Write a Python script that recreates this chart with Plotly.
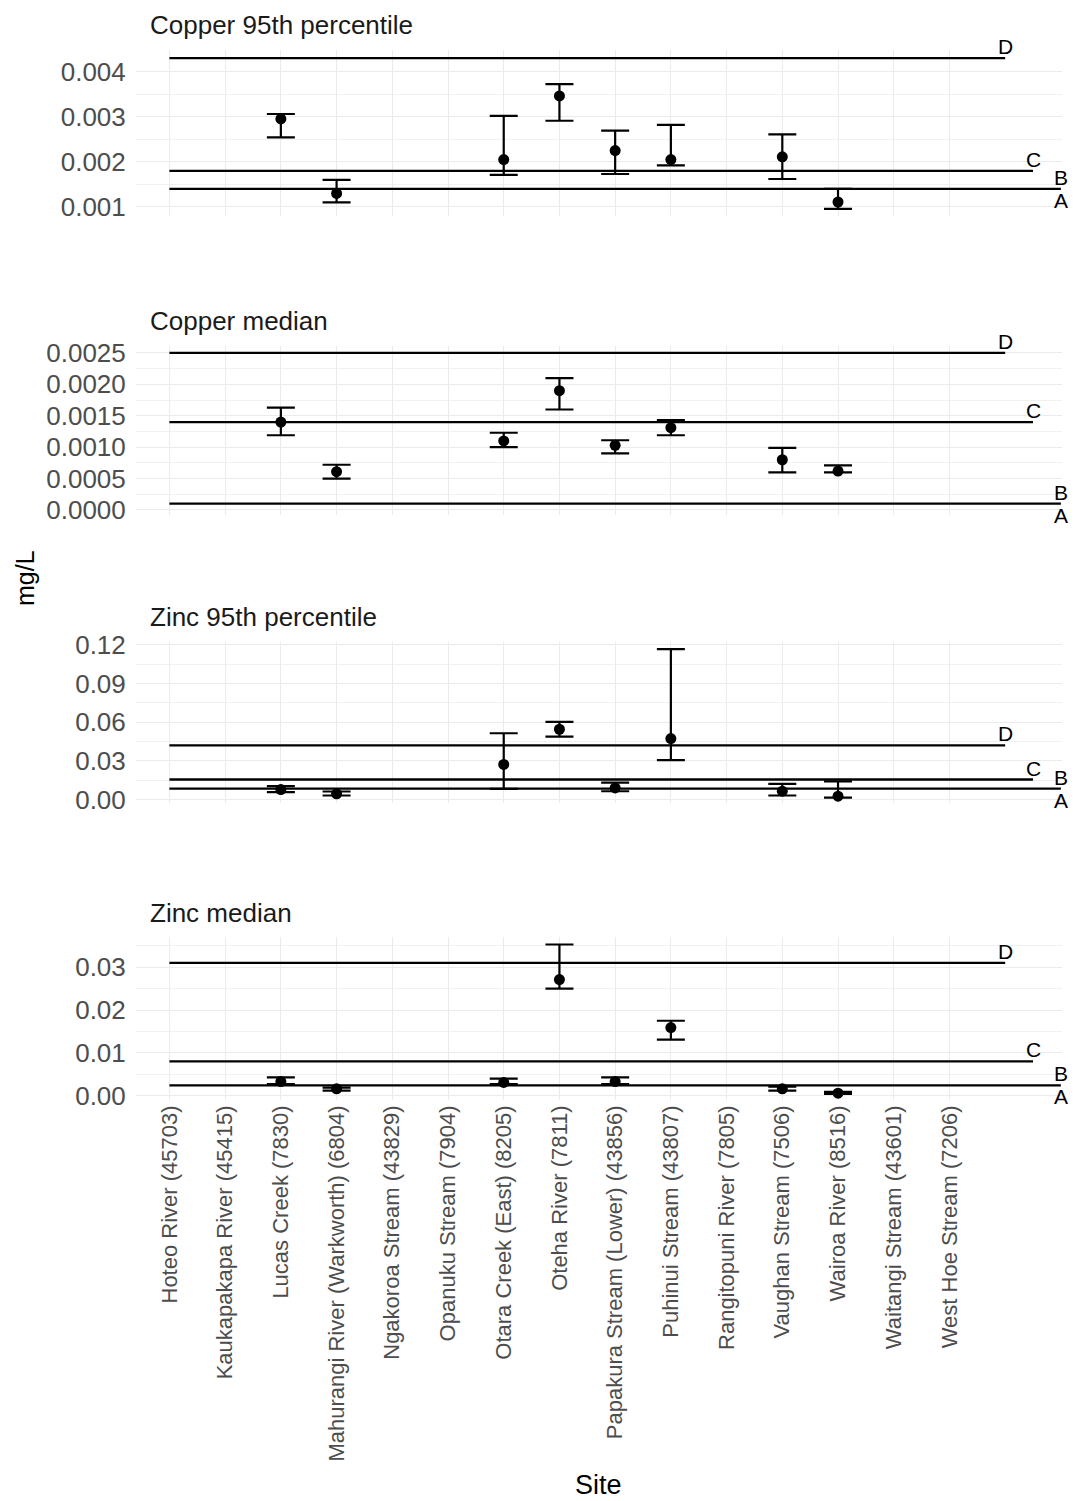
import plotly.graph_objects as go

# Monitoring sites along the x axis
sites = [
    "Hoteo River (45703)", "Kaukapakapa River (45415)", "Lucas Creek (7830)",
    "Mahurangi River (Warkworth) (6804)", "Ngakoroa Stream (43829)",
    "Opanuku Stream (7904)", "Otara Creek (East) (8205)", "Oteha River (7811)",
    "Papakura Stream (Lower) (43856)", "Puhinui Stream (43807)",
    "Rangitopuni River (7805)", "Vaughan Stream (7506)", "Wairoa River (8516)",
    "Waitangi Stream (43601)", "West Hoe Stream (7206)",
]

# Sites with metal results
measured_sites = [
    "Lucas Creek (7830)", "Mahurangi River (Warkworth) (6804)",
    "Otara Creek (East) (8205)", "Oteha River (7811)",
    "Papakura Stream (Lower) (43856)", "Puhinui Stream (43807)",
    "Vaughan Stream (7506)", "Wairoa River (8516)",
]

# Copper 95th percentile (mg/L): estimate and interval
cu95_value = [0.00295, 0.00130, 0.00205, 0.00346, 0.00225, 0.00205, 0.00211, 0.00111]
cu95_lower = [0.00254, 0.00110, 0.00171, 0.00291, 0.00173, 0.00192, 0.00162, 0.00096]
cu95_upper = [0.00306, 0.00160, 0.00302, 0.00372, 0.00269, 0.00282, 0.00261, 0.00140]
cu95_bands = [0.0043, 0.0018, 0.0014]

# Copper median (mg/L)
cu50_value = [0.00140, 0.00061, 0.00110, 0.00190, 0.00103, 0.00131, 0.00080, 0.00062]
cu50_lower = [0.00119, 0.00050, 0.00100, 0.00160, 0.00090, 0.00119, 0.00060, 0.00060]
cu50_upper = [0.00163, 0.00072, 0.00123, 0.00210, 0.00111, 0.00143, 0.00099, 0.00071]
cu50_bands = [0.0025, 0.0014, 0.0001]

# Zinc 95th percentile (mg/L)
zn95_value = [0.0077, 0.0044, 0.0272, 0.0545, 0.0090, 0.0473, 0.0064, 0.0026]
zn95_lower = [0.0057, 0.0031, 0.0082, 0.0488, 0.0064, 0.0306, 0.0031, 0.0015]
zn95_upper = [0.0103, 0.0062, 0.0514, 0.0602, 0.0131, 0.1167, 0.0121, 0.0141]
zn95_bands = [0.042, 0.0155, 0.0085]

# Zinc median (mg/L)
zn50_value = [0.0033, 0.0016, 0.0031, 0.0271, 0.0033, 0.0159, 0.0016, 0.0006]
zn50_lower = [0.0027, 0.0012, 0.0027, 0.0250, 0.0027, 0.0131, 0.0012, 0.0004]
zn50_upper = [0.0043, 0.0019, 0.0040, 0.0353, 0.0043, 0.0175, 0.0021, 0.0009]
zn50_bands = [0.031, 0.008, 0.0024]

# Band names written above each threshold line; the lowest line also gets "A" below it
band_upper_labels = ["D", "C", "B"]
band_lower_label = "A"

panel_titles = ["Copper 95th percentile", "Copper median",
                "Zinc 95th percentile", "Zinc median"]

panels = [
    dict(value=cu95_value, lower=cu95_lower, upper=cu95_upper, bands=cu95_bands,
         rng=[0.000811, 0.004478], dtick=0.001, fmt=".3f", px=(50, 215.5)),
    dict(value=cu50_value, lower=cu50_lower, upper=cu50_upper, bands=cu50_bands,
         rng=[-0.00008, 0.002619], dtick=0.0005, fmt=".4f", px=(345.5, 515)),
    dict(value=zn95_value, lower=zn95_lower, upper=zn95_upper, bands=zn95_bands,
         rng=[-0.0025, 0.1226], dtick=0.03, fmt=".2f", px=(641.5, 802.7)),
    dict(value=zn50_value, lower=zn50_lower, upper=zn50_upper, bands=zn50_bands,
         rng=[-0.0010, 0.03705], dtick=0.01, fmt=".2f", px=(937, 1100)),
]

# Threshold lines run from the first site to these x positions
band_line_end = [16, 16.5, 17]

W, H = 1077, 1501
M_L, M_R, M_T, M_B = 136, 15, 50, 401
plot_h = H - M_T - M_B
plot_w = W - M_L - M_R

FONT = "Liberation Sans, Arial, sans-serif"
TICK_COLOR = "#4D4D4D"
GRID = "#EBEBEB"

fig = go.Figure()
annotations = []
layout_axes = {}

x_measured = [sites.index(s) + 1 for s in measured_sites]

for i, p in enumerate(panels):
    n = "" if i == 0 else str(i + 1)
    xref, yref = "x" + n, "y" + n

    # Threshold lines and their band letters
    for b, lab, xe in zip(p["bands"], band_upper_labels, band_line_end):
        fig.add_trace(go.Scatter(
            x=[1, xe], y=[b, b], mode="lines",
            line=dict(color="black", width=2.3),
            xaxis=xref, yaxis=yref, showlegend=False, hoverinfo="skip",
        ))
        annotations.append(dict(
            x=xe, y=b, xref=xref, yref=yref, text=lab, showarrow=False,
            xanchor="center", yanchor="bottom", yshift=-1, borderpad=0,
            font=dict(family=FONT, size=21, color="black"),
        ))
    annotations.append(dict(
        x=band_line_end[-1], y=p["bands"][-1], xref=xref, yref=yref,
        text=band_lower_label, showarrow=False, xanchor="center",
        yanchor="top", yshift=1, borderpad=0,
        font=dict(family=FONT, size=21, color="black"),
    ))

    # Estimates with interval bars
    err_plus = [u - v for u, v in zip(p["upper"], p["value"])]
    err_minus = [v - l for v, l in zip(p["value"], p["lower"])]
    fig.add_trace(go.Scatter(
        x=x_measured, y=p["value"], mode="markers",
        marker=dict(color="black", size=11),
        error_y=dict(type="data", symmetric=False, array=err_plus,
                     arrayminus=err_minus, color="black", thickness=2.2, width=14),
        xaxis=xref, yaxis=yref, showlegend=False,
    ))

    top_px, bot_px = p["px"]
    dom = [(H - M_B - bot_px) / plot_h, (H - M_B - top_px) / plot_h]
    dom = [max(0, dom[0]), min(1, dom[1])]

    last = i == len(panels) - 1
    layout_axes["xaxis" + n] = dict(
        domain=[0, 1], anchor=yref, range=[0.4, 17.02],
        tickmode="array", tickvals=list(range(1, len(sites) + 1)),
        ticktext=sites, showticklabels=last, tickangle=-90,
        tickfont=dict(family=FONT, size=22, color=TICK_COLOR),
        showgrid=True, gridcolor=GRID, gridwidth=1,
        zeroline=False, showline=False, ticks="",
        matches=None if i == 0 else "x",
    )
    layout_axes["yaxis" + n] = dict(
        domain=dom, anchor=xref, range=p["rng"],
        tickmode="linear", tick0=0, dtick=p["dtick"], tickformat=p["fmt"],
        tickfont=dict(family=FONT, size=26, color=TICK_COLOR),
        showgrid=True, gridcolor=GRID, gridwidth=1,
        minor=dict(showgrid=True, gridcolor="#F1F1F1", gridwidth=1,
                   dtick=p["dtick"] / 2, tick0=0),
        zeroline=False, showline=False,
        ticks="outside", ticklen=4, tickcolor="rgba(0,0,0,0)",
    )

    # Panel title above each strip
    title_y_px = top_px - 25 if i == 0 else top_px - 24.5
    annotations.append(dict(
        x=(148 - M_L) / plot_w, y=(H - M_B - title_y_px) / plot_h,
        xref="paper", yref="paper", text=panel_titles[i], showarrow=False,
        xanchor="left", yanchor="middle",
        font=dict(family=FONT, size=26, color="#1A1A1A"),
    ))

# Axis titles
annotations.append(dict(
    x=(25 - M_L) / plot_w, y=(H - M_B - 578) / plot_h, xref="paper", yref="paper",
    text="mg/L", textangle=-90, showarrow=False, xanchor="center", yanchor="middle",
    font=dict(family=FONT, size=25, color="black"),
))
annotations.append(dict(
    x=(598 - M_L) / plot_w, y=(H - M_B - 1485) / plot_h, xref="paper", yref="paper",
    text="Site", showarrow=False, xanchor="center", yanchor="middle",
    font=dict(family=FONT, size=27, color="black"),
))

fig.update_layout(
    width=W, height=H,
    margin=dict(l=M_L, r=M_R, t=M_T, b=M_B),
    paper_bgcolor="white", plot_bgcolor="white",
    showlegend=False, annotations=annotations,
    **layout_axes,
)

fig.write_html("out.html")
